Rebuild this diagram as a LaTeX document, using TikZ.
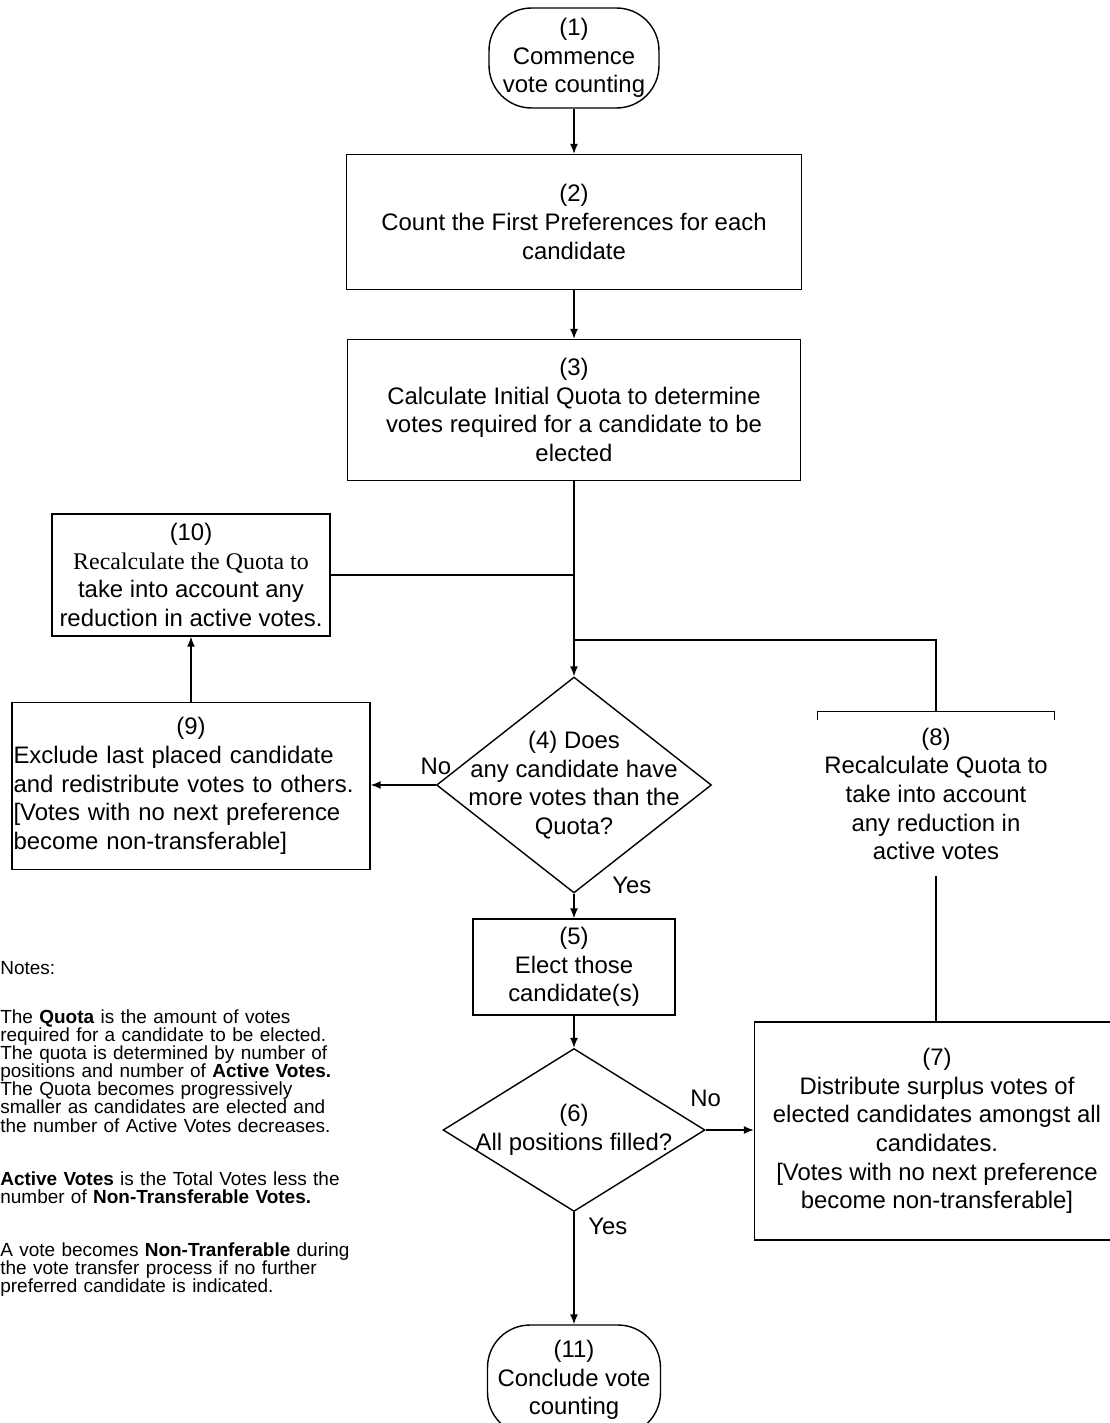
\documentclass[tikz,border=0pt]{standalone}
\usepackage{fontspec}
\setmainfont{Liberation Sans}
\newfontfamily\serifline{Liberation Serif}
\usepackage{tikz}
\usetikzlibrary{shapes,arrows}
\usetikzlibrary{positioning}
\usetikzlibrary{calc}
\usetikzlibrary{arrows.meta}
\tikzset{>=stealth}
\newcommand{\boxfont}{\fontsize{13.6}{16.3}\selectfont}
\newcommand{\notefont}{\fontsize{10.8}{10.3}\selectfont}
\tikzstyle{terminal} = [draw, rectangle, rounded corners=0.85cm, align=center,
inner sep=0pt, line width=0.8pt]
\tikzstyle{process} = [draw, rectangle, align=center, inner sep=0pt, line width=0.8pt]
\tikzstyle{decision} = [draw, diamond, inner sep=0pt, line width=0.8pt]
\tikzstyle{blank} = [rectangle, align=center, inner sep=0pt]
\tikzstyle{tag} = [inner sep=0pt]
\tikzstyle{notes} = [anchor=north west, align=left, text width=8cm, inner sep=0pt,
font=\notefont]
\tikzstyle{line} = [draw, line width=0.8pt, -{Latex[length=2mm,width=1.6mm]}]
\tikzstyle{link} = [draw, line width=0.8pt]

\begin{document}
\begin{tikzpicture}[x=0.02cm, y=-0.02cm, font=\boxfont]
      \useasboundingbox (0,0) rectangle (1109,1423);
      \node [terminal, minimum width=3.4cm, minimum height=2cm] (n1) at (574,58) {(1)\\Commence\\vote counting};
      \node [process, minimum width=9.1cm, minimum height=2.7cm] (n2) at (574,222) {(2)\\Count the First Preferences for each\\candidate};
      \node [process, minimum width=9.06cm, minimum height=2.82cm] (n3) at (574,410) {(3)\\Calculate Initial Quota to determine\\votes required for a candidate to be\\elected};
      \node [decision, minimum width=5.5cm, minimum height=4.32cm,
        label={[align=center]center:{(4) Does\\any candidate have\\more votes than the\\Quota?}}] (d4) at (574,785) {};
      \node [process, minimum width=4.04cm, minimum height=1.92cm] (n5) at (574,967) {(5)\\Elect those\\candidate(s)};
      \node [decision, minimum width=5.24cm, minimum height=3.26cm,
        label={[align=center]center:{(6)\\All positions filled?}}] (d6) at (574,1130) {};
      \node [process, minimum width=7.3cm, minimum height=4.36cm] (n7) at (937,1131) {(7)\\Distribute surplus votes of\\elected candidates amongst all\\candidates.\\{[}Votes with no next preference\\become non-transferable]};
      \node [blank, minimum width=4.72cm, minimum height=3.28cm] (n8) at (936,794) {(8)\\Recalculate Quota to\\take into account\\any reduction in\\active votes};
      \node [process, minimum width=7.16cm, minimum height=3.34cm, text width=7.1cm, align=left] (n9) at (191,786) {\makebox[7.1cm]{(9)}\\Exclude last placed candidate\\and redistribute votes to others.\\{[}Votes with no next preference\\become non-transferable]};
      \node [process, minimum width=5.56cm, minimum height=2.44cm] (n10) at (191,575) {(10)\\{\serifline Recalculate the Quota to}\\take into account any\\reduction in active votes.};
      \node [terminal, minimum width=3.46cm, minimum height=2.2cm] (n11) at (574,1380) {(11)\\Conclude vote\\counting};
      \coordinate (j8) at (574,640);
      %% open box (8)
      \draw [line width=0.8pt] ([yshift=-0.16cm]n8.north west) -- (n8.north west) -- (n8.north east) -- ([yshift=-0.16cm]n8.north east);
      %% Flows
      \path [line] (n1) -- (n2);
      \path [line] (n2) -- (n3);
      \path [line] (n3) -- (d4);
      \path [line] (d4) -- (d4 -| n9.east);
      \path [line] (n9) -- (n10);
      \path [link] (n10) -- (n10 -| d4);
      \path [line] (d4) -- (n5);
      \path [line] (n5) -- (d6);
      \path [line] (d6) -- (d6 -| n7.west);
      \path [link] (n7.north -| n8) -- (n8);
      \path [link] (n8.north) |- (j8);
      \path [line] (d6) -- (n11);
      %% Answers
      \node [tag, above=0.2cm of d4.west] (no4) {No};
      \node [tag, anchor=west] (yes4) at ([xshift=0.76cm, yshift=0.16cm]d4.south) {Yes};
      \node [tag, above=0.45cm of d6.east] (no6) {No};
      \node [tag, anchor=west] (yes6) at ([xshift=0.28cm, yshift=-0.28cm]d6.south) {Yes};
      %% Notes
      \node [notes] (notes) at (0,961) {Notes:\\[0.62cm]
        The \textbf{Quota} is the amount of votes\\
        required for a candidate to be elected.\\
        The quota is determined by number of\\
        positions and number of \textbf{Active Votes.}\\
        The Quota becomes progressively\\
        smaller as candidates are elected and\\
        the number of Active Votes decreases.\\[0.7cm]
        \textbf{Active Votes} is the Total Votes less the\\
        number of \textbf{Non-Transferable Votes.}\\[0.7cm]
        A vote becomes \textbf{Non-Tranferable} during\\
        the vote transfer process if no further\\
        preferred candidate is indicated.};
    \end{tikzpicture}
\end{document}
